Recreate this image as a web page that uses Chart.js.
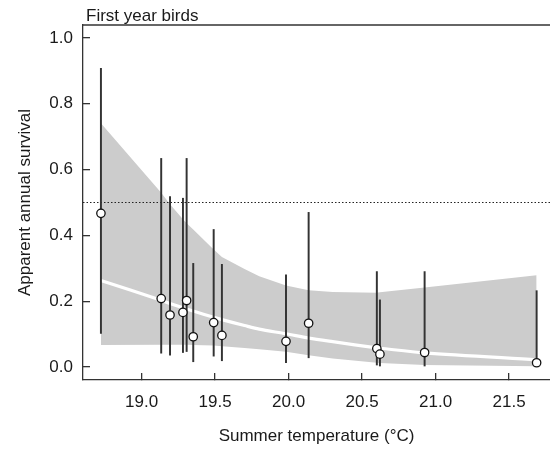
<!DOCTYPE html>
<html>
<head>
<meta charset="utf-8">
<script src="https://cdn.jsdelivr.net/npm/chart.js@4/dist/chart.umd.min.js"></script>
<style>
  html, body { margin: 0; padding: 0; background: #ffffff; }
  #wrap { width: 550px; height: 450px; position: relative; }
</style>
</head>
<body>
<div id="wrap"><canvas id="c" width="550" height="450"></canvas></div>
<script>
// ---- data ----
const panelTitle = "First year birds";
const xAxisTitle = "Summer temperature (°C)";
const yAxisTitle = "Apparent annual survival";

const temps    = [18.723, 19.133, 19.193, 19.281, 19.306, 19.351, 19.490, 19.546, 19.982, 20.136, 20.600, 20.621, 20.925, 21.687];
const survival = [0.467, 0.208, 0.158, 0.166, 0.202, 0.092, 0.135, 0.096, 0.078, 0.133, 0.056, 0.039, 0.044, 0.013];
const ciLow    = [0.102, 0.042, 0.036, 0.044, 0.047, 0.016, 0.033, 0.019, 0.013, 0.028, 0.006, 0.003, 0.003, 0.002];
const ciHigh   = [0.908, 0.634, 0.518, 0.513, 0.634, 0.315, 0.418, 0.312, 0.280, 0.470, 0.290, 0.204, 0.290, 0.232];

const curveTemps = [18.723, 19.133, 19.193, 19.281, 19.306, 19.351, 19.490, 19.546, 19.700, 19.800, 19.982, 20.136, 20.300, 20.600, 20.621, 20.925, 21.687];
const curveFit   = [0.263, 0.203, 0.193, 0.180, 0.176, 0.170, 0.151, 0.144, 0.126, 0.115, 0.101, 0.088, 0.077, 0.058, 0.057, 0.043, 0.022];
const curveLow   = [0.067, 0.068, 0.068, 0.068, 0.068, 0.067, 0.065, 0.063, 0.058, 0.054, 0.046, 0.036, 0.026, 0.013, 0.012, 0.006, 0.002];
const curveHigh  = [0.741, 0.530, 0.495, 0.449, 0.437, 0.418, 0.357, 0.334, 0.298, 0.276, 0.248, 0.233, 0.228, 0.226, 0.227, 0.242, 0.279];

const referenceLevel = 0.5;
const xTicks = [19.0, 19.5, 20.0, 20.5, 21.0, 21.5];
const yTicks = [0.0, 0.2, 0.4, 0.6, 0.8, 1.0];
const xMin = 18.601, xMax = 21.778;
const yMin = -0.0395, yMax = 1.0395;

// ---- styling ----
const FONT = '"Liberation Sans", Arial, Helvetica, sans-serif';
const AXIS = '#333333';
const TEXT = '#1a1a1a';

const pts = (xs, ys) => xs.map((x, i) => ({ x: x, y: ys[i] }));

const frame = {
  id: 'frame',
  afterDraw(chart) {
    const { ctx, chartArea } = chart;
    ctx.save();
    ctx.strokeStyle = AXIS;
    ctx.lineWidth = 1.3;
    ctx.beginPath();
    ctx.moveTo(chartArea.left, chartArea.top);
    ctx.lineTo(chartArea.right, chartArea.top);
    ctx.stroke();
    ctx.fillStyle = TEXT;
    ctx.font = '17px ' + FONT;
    ctx.textAlign = 'left';
    ctx.textBaseline = 'alphabetic';
    ctx.fillText(panelTitle, chartArea.left + 3, chartArea.top - 4);
    ctx.restore();
  }
};

new Chart(document.getElementById('c'), {
  type: 'scatter',
  data: {
    datasets: [
      { type: 'line', data: pts(curveTemps, curveLow), borderColor: 'rgba(0,0,0,0)', borderWidth: 0,
        pointRadius: 0, fill: false, order: 6, tension: 0 },
      { type: 'line', data: pts(curveTemps, curveHigh), borderColor: 'rgba(0,0,0,0)', borderWidth: 0,
        pointRadius: 0, fill: '-1', backgroundColor: '#cccccc', order: 5, tension: 0 },
      { type: 'line', data: pts(curveTemps, curveFit), borderColor: '#ffffff', borderWidth: 3.2,
        pointRadius: 0, fill: false, order: 4, tension: 0.3 },
      { type: 'line', data: [{ x: xMin, y: referenceLevel }, { x: xMax, y: referenceLevel }],
        borderColor: '#222222', borderWidth: 1, borderDash: [1.5, 2], pointRadius: 0, fill: false, order: 3 },
      { type: 'bar', data: temps.map((t, i) => ({ x: t, y: [ciLow[i], ciHigh[i]] })),
        backgroundColor: '#333333', borderWidth: 0, barThickness: 1.3, order: 2 },
      { type: 'scatter', data: pts(temps, survival), pointRadius: 4.2, pointBorderWidth: 1.3,
        pointBackgroundColor: '#ffffff', pointBorderColor: '#111111', order: 1 }
    ]
  },
  options: {
    responsive: false,
    animation: false,
    events: [],
    layout: { autoPadding: false, padding: { top: 25, left: 0, right: 0, bottom: 0 } },
    plugins: { legend: { display: false }, tooltip: { enabled: false }, title: { display: false } },
    scales: {
      x: {
        type: 'linear', position: 'bottom', min: xMin, max: xMax, offset: false,
        afterBuildTicks: (s) => { s.ticks = xTicks.map(v => ({ value: v })); },
        afterFit: (s) => { s.height = 70; s.paddingRight = 0; s.paddingLeft = 0; },
        ticks: { font: { family: FONT, size: 17 }, color: TEXT, padding: 19, maxRotation: 0,
                 callback: (v) => Number(v).toFixed(1) },
        grid: { offset: false, drawOnChartArea: false, drawTicks: true, tickLength: -7, color: AXIS, lineWidth: 1.3 },
        border: { display: true, color: AXIS, width: 1.3 },
        title: { display: true, text: xAxisTitle, font: { family: FONT, size: 17 }, color: TEXT,
                 padding: { top: 0, bottom: 3 } }
      },
      y: {
        type: 'linear', position: 'left', min: yMin, max: yMax, offset: false,
        afterBuildTicks: (s) => { s.ticks = yTicks.map(v => ({ value: v })); },
        afterFit: (s) => { s.width = 83; s.paddingTop = 0; s.paddingBottom = 0; },
        ticks: { font: { family: FONT, size: 17 }, color: TEXT, padding: 17,
                 callback: (v) => Number(v).toFixed(1) },
        grid: { drawOnChartArea: false, drawTicks: true, tickLength: -7, color: AXIS, lineWidth: 1.3 },
        border: { display: true, color: AXIS, width: 1.3 },
        title: { display: true, text: yAxisTitle, font: { family: FONT, size: 17 }, color: TEXT,
                 padding: { top: 15, bottom: 0 } }
      }
    }
  },
  plugins: [frame]
});
</script>
</body>
</html>
